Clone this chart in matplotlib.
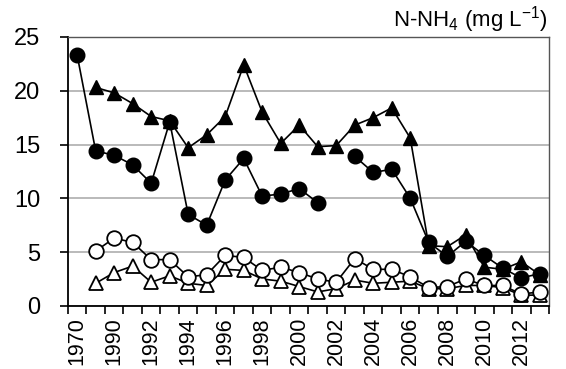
import numpy as np
import matplotlib.pyplot as plt
from matplotlib.ticker import FixedLocator, NullFormatter

plt.rcParams['font.family'] = ['Liberation Sans', 'DejaVu Sans']
plt.rcParams['mathtext.fontset'] = 'custom'
plt.rcParams['mathtext.rm'] = 'Liberation Sans'
plt.rcParams['mathtext.it'] = 'Liberation Sans'

nan = np.nan

# 연도 (1970 다음에 1989부터 2013까지)
years = ['1970'] + [str(y) for y in range(1989, 2014)]

# 채워진 원
filled_circ = [23.3, 14.4, 14.0, 13.1, 11.4, 17.1, 8.5, 7.5, 11.7, 13.7, 10.2, 10.4, 10.9, 9.6,
               nan, 13.9, 12.4, 12.7, 10.0, 5.9, 4.6, 6.0, 4.7, 3.5, 2.6, 3.0]
# 채워진 삼각형
filled_tri = [nan, 20.3, 19.8, 18.8, 17.6, 17.2, 14.7, 15.9, 17.6, 22.4, 18.0, 15.1, 16.8, 14.8,
              14.9, 16.8, 17.5, 18.4, 15.6, 5.6, 5.5, 6.6, 3.6, 3.4, 4.1, 2.9]
# 빈 원
open_circ = [nan, 5.1, 6.3, 5.9, 4.3, 4.3, 2.7, 2.9, 4.7, 4.5, 3.3, 3.6, 3.1, 2.5,
             2.2, 4.4, 3.4, 3.4, 2.7, 1.7, 1.8, 2.5, 1.9, 1.9, 1.1, 1.3]
# 빈 삼각형
open_tri = [nan, 2.1, 3.1, 3.7, 2.2, 2.8, 2.1, 1.9, 3.4, 3.3, 2.5, 2.3, 1.8, 1.3,
            1.6, 2.4, 2.1, 2.2, 2.3, 1.6, 1.6, 1.9, 1.9, 1.7, 1.0, 1.0]

x = np.arange(len(years))

fig = plt.figure(figsize=(5.66, 3.69), dpi=100)
ax = fig.add_axes([0.12, 0.171, 0.85, 0.729])

ms = 10.5
lw = 1.2
ax.plot(x, filled_tri, color='black', lw=lw, marker='^', ms=ms, mfc='black', mec='black', zorder=3)
ax.plot(x, filled_circ, color='black', lw=lw, marker='o', ms=ms, mfc='black', mec='black', zorder=4)
ax.plot(x, open_tri, color='black', lw=lw, marker='^', ms=ms, mfc='white', mec='black', mew=1.3, zorder=5)
ax.plot(x, open_circ, color='black', lw=lw, marker='o', ms=ms, mfc='white', mec='black', mew=1.3, zorder=6)

ax.set_xlim(-0.5, len(years) - 0.5)
ax.set_ylim(0, 25)
ax.set_yticks([0, 5, 10, 15, 20, 25])
ax.yaxis.grid(True, color='#b4b4b4', lw=1.3)
ax.set_axisbelow(True)

# x축 눈금: 라벨은 두 칸마다, 눈금선은 카테고리 경계
ax.set_xticks(x[::2])
ax.set_xticklabels(years[::2], rotation=90)
ax.xaxis.set_minor_locator(FixedLocator(np.arange(-0.5, len(years), 1)))
ax.xaxis.set_minor_formatter(NullFormatter())
ax.tick_params(axis='x', which='major', length=0, labelsize=15.5, pad=8)
ax.tick_params(axis='x', which='minor', length=6, width=1.2, direction='out')
ax.tick_params(axis='y', length=6, width=1.2, labelsize=17, pad=14)

for s in ['left', 'bottom']:
    ax.spines[s].set_color('black')
    ax.spines[s].set_linewidth(1.3)
for s in ['top', 'right']:
    ax.spines[s].set_color('#555555')
    ax.spines[s].set_linewidth(1.0)

fig.text(0.968, 0.927, 'N-NH$_4$ (mg L$^{-1}$)', ha='right', va='baseline', fontsize=16)

fig.savefig('out.png', dpi=100)
